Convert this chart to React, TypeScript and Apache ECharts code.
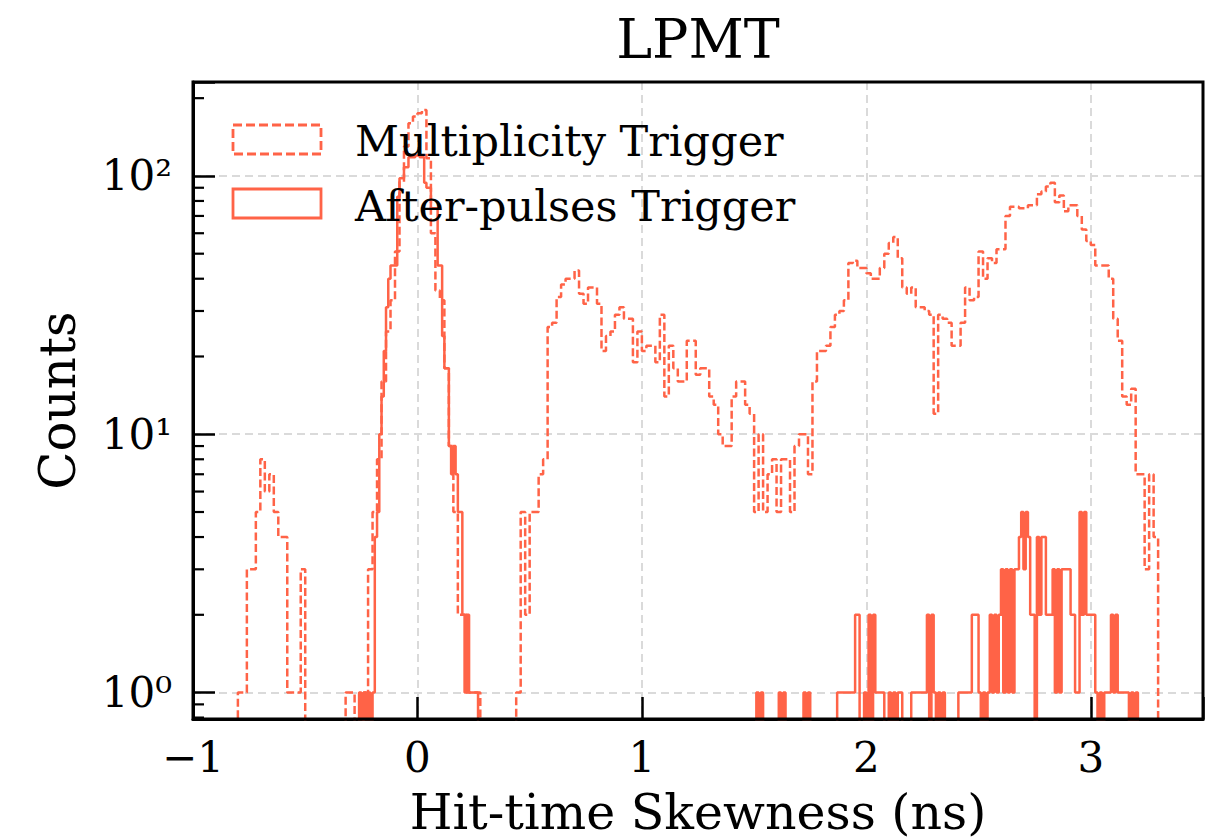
import React, { useEffect, useRef } from "react";
import * as echarts from "echarts";

// ---------------- data ----------------
const COLOR = "#ff6347";
const FONT = "'DejaVu Serif', serif";

// Multiplicity Trigger histogram (bin width 0.02 ns)
const MULT_BIN = 0.02;
const multLeftStart = -0.8;
const multLeft = [1, 1, 3, 3, 5, 8, 6, 7, 5, 4, 4, 1, 1, 1, 3];
const multCentralStart = -0.32;
const multCentral = [
  1, 1, 0, 0, 1, 3, 5, 8, 16, 25, 33, 51, 95, 130, 160, 170, 175, 180, 117, 60,
  36, 33, 18, 9, 5, 2, 2, 1, 1, 1,
];
const multBroadStart = 0.44;
const multBroadA = [
  1, 5, 2, 5, 5, 7, 8, 26, 27, 34, 38, 40, 40, 43, 35, 32, 37, 37, 32, 21,
  24, 25, 29, 31, 28, 28, 19, 25, 21, 22, 22, 19, 29, 14, 22, 18, 16, 16, 23, 23,
  17, 18, 18, 14, 13, 10, 9, 9, 14, 16, 16, 13, 12, 5, 10, 5, 7, 8, 5, 8,
  8, 5, 9, 10, 10, 7, 16, 21,
];
const multBroadB = [
  21, 22, 26, 29, 30, 33, 46, 47, 44, 44, 42, 40, 40, 44, 50, 55, 58, 48, 37, 35,
  37, 31, 31, 30, 29, 12, 29, 28, 27, 22, 22, 27, 37, 33, 34, 51, 40, 48, 46, 52,
  52, 70, 76, 76, 75, 75, 77, 77, 85, 87, 91, 94, 79, 84, 73, 77, 77, 70, 62, 56,
  54, 45, 45, 45, 40, 28, 23, 14, 13, 15, 7, 7, 3, 7, 4,
];

// After-pulses Trigger histogram (bin width 0.01 ns)
const AP_BIN = 0.01;
const apCentralStart = -0.26;
const apCentral = [
  1, 0, 1, 0, 1, 0, 1, 4, 5, 10, 14, 21, 31, 40, 45, 45, 45, 83, 98, 98,
  108, 108, 118, 118, 118, 120, 120, 118, 118, 94, 90, 90, 75, 75, 75, 45, 45, 24, 18, 18,
  9, 7, 9, 7, 5, 5, 2, 1, 2, 1, 1, 1, 1,
];
const apTailStart = 1.5;
const apTail = [
  0, 1, 0, 1, 0, 0, 0, 0, 0, 0,
  0, 1, 0, 1, 0, 0, 0, 0, 0, 0,
  0, 0, 1, 0, 1, 0, 0, 0, 0, 0,
  0, 0, 0, 0, 0, 0, 0, 1, 1, 1,
  1, 1, 1, 1, 1, 2, 2, 0, 0, 1,
  0, 2, 0, 2, 1, 1, 1, 1, 0, 0,
  1, 0, 1, 0, 1, 1, 0, 0, 0, 0,
  1, 1, 1, 1, 1, 1, 1, 2, 0, 2,
  1, 0, 1, 0, 1, 0, 0, 0, 0, 0,
  0, 1, 1, 1, 1, 1, 1, 2, 2, 2,
  1, 0, 1, 0, 1, 2, 1, 2, 1, 2,
  3, 1, 3, 1, 3, 1, 3, 3, 4, 5,
  3, 5, 4, 2, 2, 0, 4, 2, 4, 4,
  2, 2, 2, 3, 1, 3, 1, 3, 3, 3,
  3, 2, 2, 1, 1, 5, 2, 5, 2, 2,
  2, 2, 1, 0, 1, 0, 1, 1, 1, 2,
  1, 2, 1, 1, 1, 1, 1, 0, 1, 0,
  1,
];

// axes
const X_MIN = -1;
const X_MAX = 3.5;
const Y_MIN = 0.79;
const Y_MAX = 231;
const xTickLabels: Record<string, string> = { "-1": "\u22121", "0": "0", "1": "1", "2": "2", "3": "3" };
const yTickLabels = ["10\u2070", "10\u00b9", "10\u00b2"];
const yMinorTicks = [0.8, 0.9, 2, 3, 4, 5, 6, 7, 8, 9, 20, 30, 40, 50, 60, 70, 80, 90, 200];
const legendNames = ["Multiplicity Trigger", "After-pulses Trigger"];

// --------------- helpers ---------------
const ZERO = 0.05; // below the visible range on the log axis

function stepSegment(start: number, width: number, counts: number[]) {
  const r = (v: number) => Math.round(v * 1e6) / 1e6;
  const pts: number[][] = [[r(start), ZERO]];
  counts.forEach((c, i) => {
    const y = c > 0 ? c : ZERO;
    pts.push([r(start + i * width), y], [r(start + (i + 1) * width), y]);
  });
  pts.push([r(start + counts.length * width), ZERO]);
  return pts;
}

export default function App() {
  const ref = useRef<HTMLDivElement>(null);

  useEffect(() => {
    if (!ref.current) return;
    const chart = echarts.init(ref.current, undefined, { renderer: "svg" });

    const multData = [
      ...stepSegment(multLeftStart, MULT_BIN, multLeft),
      ...stepSegment(multCentralStart, MULT_BIN, multCentral),
      ...stepSegment(multBroadStart, MULT_BIN, [...multBroadA, ...multBroadB]),
    ];
    const apData = [
      ...stepSegment(apCentralStart, AP_BIN, apCentral),
      ...stepSegment(apTailStart, AP_BIN, apTail),
    ];

    const gridLeft = 193;
    const gridTop = 82;
    const gridRight = 23;
    const gridBottom = 120;
    const W = 1226;
    const H = 839;

    const tickStyle = { color: "#000", width: 2.5 };
    const splitStyle = { color: "#dadada", width: 2, type: [8, 5] };

    chart.setOption({
      animation: false,
      backgroundColor: "#fff",
      title: {
        text: "LPMT",
        left: 698,
        top: 12,
        padding: 0,
        textAlign: "center",
        textStyle: { fontFamily: FONT, fontSize: 54, fontWeight: "normal", color: "#000" },
      },
      grid: {
        left: gridLeft,
        top: gridTop,
        right: gridRight,
        bottom: gridBottom,
        show: false,
        containLabel: false,
        outerBoundsMode: "none",
      },
      xAxis: {
        type: "value",
        min: X_MIN,
        max: X_MAX,
        interval: 1,
        name: "Hit-time Skewness (ns)",
        nameLocation: "middle",
        nameGap: 68,
        nameTextStyle: { fontFamily: FONT, fontSize: 49, lineHeight: 50, color: "#000" },
        axisLine: { show: true, onZero: false, lineStyle: { color: "#000", width: 3 } },
        axisTick: { show: true, inside: true, length: 22, lineStyle: tickStyle },
        axisLabel: {
          margin: 17,
          fontFamily: FONT,
          fontSize: 42,
          color: "#000",
          formatter: (v: number) => {
            const k = Math.round(v);
            return Math.abs(v - k) < 1e-6 && xTickLabels[String(k)] !== undefined ? xTickLabels[String(k)] : "";
          },
        },
        splitLine: { show: true, lineStyle: splitStyle },
      },
      yAxis: {
        type: "log",
        logBase: 10,
        min: Y_MIN,
        max: Y_MAX,
        name: "Counts",
        nameLocation: "middle",
        nameGap: 110,
        nameTextStyle: { fontFamily: FONT, fontSize: 50, color: "#000" },
        axisLine: { show: true, onZero: false, lineStyle: { color: "#000", width: 3 } },
        axisTick: { show: true, inside: true, length: 22, lineStyle: tickStyle },
        axisLabel: {
          margin: 21,
          fontFamily: FONT,
          fontSize: 42,
          color: "#000",
          formatter: (v: number) => {
            const l = Math.log10(v);
            const k = Math.round(l);
            return Math.abs(l - k) < 1e-6 && yTickLabels[k] !== undefined ? yTickLabels[k] : "";
          },
        },
        splitLine: { show: true, lineStyle: splitStyle },
      },
      series: [
        {
          name: legendNames[0],
          type: "line",
          data: multData,
          showSymbol: false,
          symbol: "none",
          clip: true,
          z: 3,
          lineStyle: { color: COLOR, width: 2.5, type: [8, 3.5] },
        },
        {
          name: legendNames[1],
          type: "line",
          data: apData,
          showSymbol: false,
          symbol: "none",
          clip: true,
          z: 4,
          lineStyle: { color: COLOR, width: 2.5, type: "solid" },
        },
        {
          type: "custom",
          silent: true,
          clip: false,
          z: 10,
          data: yMinorTicks.map((v) => [X_MIN, v]),
          renderItem: (params: any, api: any) => {
            const p = api.coord([X_MIN, api.value(1)]);
            return {
              type: "line",
              shape: { x1: p[0], y1: p[1], x2: p[0] + 11, y2: p[1] },
              style: { stroke: "#000", lineWidth: 2.2 },
            };
          },
        },
      ],
      graphic: [
        {
          type: "rect",
          silent: true,
          shape: {
            x: gridLeft,
            y: gridTop,
            width: W - gridLeft - gridRight,
            height: H - gridTop - gridBottom,
          },
          style: { fill: "rgba(0,0,0,0)", stroke: "#000", lineWidth: 3 },
          z: 50,
        },
        {
          type: "rect",
          shape: { x: 233, y: 125, width: 88, height: 29 },
          style: { fill: "rgba(0,0,0,0)", stroke: COLOR, lineWidth: 2.8, lineDash: [9, 4] },
          z: 20,
        },
        {
          type: "text",
          x: 355,
          y: 141,
          style: {
            text: legendNames[0],
            fill: "#000",
            fontFamily: FONT,
            fontSize: 43,
            verticalAlign: "middle",
            align: "left",
          },
          z: 20,
        },
        {
          type: "rect",
          shape: { x: 233, y: 189, width: 88, height: 29 },
          style: { fill: "rgba(0,0,0,0)", stroke: COLOR, lineWidth: 2.8 },
          z: 20,
        },
        {
          type: "text",
          x: 355,
          y: 206,
          style: {
            text: legendNames[1],
            fill: "#000",
            fontFamily: FONT,
            fontSize: 43,
            verticalAlign: "middle",
            align: "left",
          },
          z: 20,
        },
      ],
    });

    return () => chart.dispose();
  }, []);

  return (
    <div
      ref={ref}
      style={{ position: "absolute", left: 0, top: 0, width: 1226, height: 839, background: "#fff" }}
    />
  );
}
